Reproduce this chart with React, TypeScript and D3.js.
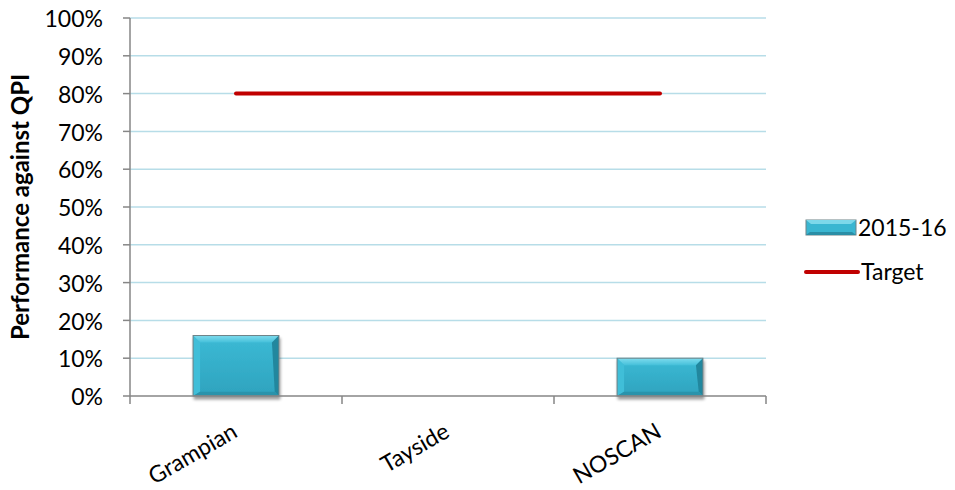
import React from "react";
import * as d3 from "d3";

const categories = ["Grampian", "Tayside", "NOSCAN"];
const values2015: (number | null)[] = [0.16, null, 0.1];
const targetValues = [0.8, 0.8, 0.8];
const yTicks = [0, 0.1, 0.2, 0.3, 0.4, 0.5, 0.6, 0.7, 0.8, 0.9, 1.0];
const seriesNames = ["2015-16", "Target"];

const W = 955;
const H = 490;
const margin = { left: 130, right: 189, top: 18, bottom: 94 };
const FONT = "Lato, 'Open Sans', sans-serif";
const FS = 23;

export default function App() {
  const x = d3
    .scaleBand<string>()
    .domain(categories)
    .range([margin.left, W - margin.right])
    .paddingInner(0)
    .paddingOuter(0);
  const y = d3.scaleLinear().domain([0, 1]).range([H - margin.bottom, margin.top]);
  const barW = x.bandwidth() * 0.405;
  const bevel = 7;
  const fmt = d3.format(".0%");

  const line = d3
    .line<number>()
    .x((_, i) => (x(categories[i]) as number) + x.bandwidth() / 2)
    .y((d) => y(d));

  const y0 = y(0);

  return (
    <svg width={W} height={H} style={{ position: "absolute", left: 0, top: 0 }}>
      <defs>
        <filter id="shadow" x="-10%" y="-10%" width="130%" height="140%">
          <feGaussianBlur in="SourceAlpha" stdDeviation="1.5" />
          <feOffset dx="1" dy="3" />
          <feComponentTransfer>
            <feFuncA type="linear" slope="0.4" />
          </feComponentTransfer>
          <feMerge>
            <feMergeNode />
            <feMergeNode in="SourceGraphic" />
          </feMerge>
        </filter>
        <linearGradient id="face" x1="0" y1="0" x2="0" y2="1">
          <stop offset="0" stopColor="#3cbad5" />
          <stop offset="1" stopColor="#2ea3be" />
        </linearGradient>
        <linearGradient id="topBevel" x1="0" y1="0" x2="0" y2="1">
          <stop offset="0" stopColor="#7fdcee" />
          <stop offset="1" stopColor="#45c0da" />
        </linearGradient>
      </defs>

      {/* horizontal gridlines */}
      {yTicks.slice(1).map((t) => (
        <line
          key={t}
          x1={margin.left}
          x2={W - margin.right}
          y1={y(t)}
          y2={y(t)}
          stroke="#b7dde8"
          strokeWidth={1.5}
        />
      ))}

      {/* y axis */}
      <line x1={margin.left} x2={margin.left} y1={y(1)} y2={y0} stroke="#868686" strokeWidth={1.5} />
      {yTicks.map((t) => (
        <g key={t}>
          <line x1={margin.left - 7} x2={margin.left} y1={y(t)} y2={y(t)} stroke="#868686" strokeWidth={1.5} />
          <text
            x={margin.left - 27}
            y={y(t) + 1}
            dy="0.36em"
            textAnchor="end"
            fontFamily={FONT}
            fontSize={FS}
            fill="#000"
          >
            {fmt(t)}
          </text>
        </g>
      ))}

      {/* bars */}
      {categories.map((c, i) => {
        const v = values2015[i];
        if (v == null) return null;
        const cx = (x(c) as number) + x.bandwidth() / 2;
        const x0 = cx - barW / 2;
        const x1 = cx + barW / 2;
        const yt = y(v);
        const b = Math.min(bevel, (y0 - yt) / 3);
        const bs = b * 0.6;
        return (
          <g key={c} filter="url(#shadow)">
            <rect x={x0} y={yt} width={barW} height={y0 - yt} fill="url(#face)" />
            <polygon points={`${x0},${yt} ${x1},${yt} ${x1 - b},${yt + b} ${x0 + b},${yt + b}`} fill="url(#topBevel)" />
            <polygon points={`${x0},${yt} ${x0 + b},${yt + b} ${x0 + b},${y0 - bs} ${x0},${y0}`} fill="#41bed8" />
            <polygon points={`${x1},${yt} ${x1},${y0} ${x1 - bs},${y0 - bs} ${x1 - b},${yt + b}`} fill="#24879e" />
            <polygon points={`${x0},${y0} ${x0 + b},${y0 - bs} ${x1 - bs},${y0 - bs} ${x1},${y0}`} fill="#2b93ab" />
            <rect x={x0} y={yt} width={barW} height={y0 - yt} fill="none" stroke="#6f8388" strokeWidth={1} />
          </g>
        );
      })}

      {/* x axis */}
      <line x1={margin.left} x2={W - margin.right} y1={y0} y2={y0} stroke="#868686" strokeWidth={1.5} />
      {[...categories.map((c) => x(c) as number), W - margin.right].map((px, i) => (
        <line key={i} x1={px} x2={px} y1={y0} y2={y0 + 8} stroke="#868686" strokeWidth={1.5} />
      ))}
      {categories.map((c) => {
        const cx = (x(c) as number) + x.bandwidth() / 2;
        return (
          <text
            key={c}
            transform={`translate(${cx + 3},${y0 + 40}) rotate(-30)`}
            textAnchor="end"
            fontFamily={FONT}
            fontSize={FS}
            fill="#000"
          >
            {c}
          </text>
        );
      })}

      {/* target line */}
      <path d={line(targetValues) ?? ""} fill="none" stroke="#c00000" strokeWidth={4} strokeLinecap="round" />

      {/* y axis title */}
      <text
        transform={`translate(${29},${(margin.top + y0) / 2}) rotate(-90)`}
        textAnchor="middle"
        fontFamily={FONT}
        fontWeight="bold"
        fontSize={24}
        fill="#000"
      >
        Performance against QPI
      </text>

      {/* legend */}
      <g>
        <rect x={806} y={220} width={50} height={15} fill="#3ab6d1" stroke="#6f8388" strokeWidth={1} />
        <polygon points="806,220 856,220 851,224 811,224" fill="#7dd8ea" />
        <polygon points="806,235 810,232 852,232 856,235" fill="#2a8ea6" />
        <text x={858} y={228} dy="0.36em" fontFamily={FONT} fontSize={FS} fill="#000">
          {seriesNames[0]}
        </text>
        <line x1={806} x2={858} y1={272} y2={272} stroke="#c00000" strokeWidth={4} strokeLinecap="round" />
        <text x={861} y={272} dy="0.36em" fontFamily={FONT} fontSize={FS} fill="#000">
          {seriesNames[1]}
        </text>
      </g>
    </svg>
  );
}
